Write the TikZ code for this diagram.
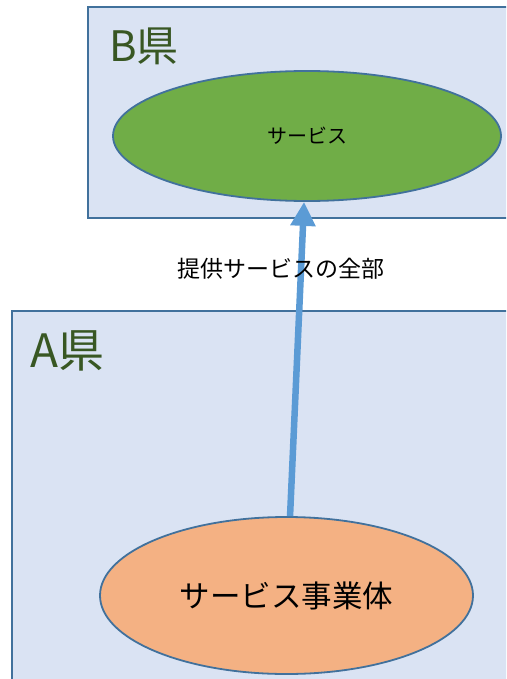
\documentclass[tikz,border=0pt]{standalone}
\usepackage{fontspec}
\newfontfamily\jpfont{Noto Sans CJK JP}
\usetikzlibrary{shapes.geometric,arrows.meta}

\definecolor{area}{RGB}{218,227,243}
\definecolor{rim}{RGB}{65,113,156}
\definecolor{serv}{RGB}{112,173,71}
\definecolor{firm}{RGB}{244,177,131}
\definecolor{flow}{RGB}{91,155,213}
\definecolor{kenname}{RGB}{56,87,35}

\begin{document}
\begin{tikzpicture}[x=1pt,y=-1pt,
  area/.style={fill=area,draw=rim,line width=2pt},
  blob/.style={ellipse,draw=rim,line width=1.8pt,inner sep=0pt,font=\jpfont},
  ken/.style={anchor=base west,inner sep=0pt,text=kenname,font=\jpfont}]
\useasboundingbox (0,0) rectangle (506,679) ;
\clip (0,0) rectangle (506,679) ;
\filldraw [area] (88,7) rectangle (520,218) ;
\filldraw [area] (12,311) rectangle (520,700) ;
\node [ken] (bken) at (109,62) {\fontsize{42}{46}\selectfont B県} ;
\node [ken] (aken) at (30,367) {\fontsize{46}{50}\selectfont A県} ;
\node [blob,fill=serv,minimum width=388pt,minimum height=130pt]
  (service) at (307,136) {\fontsize{20}{22}\selectfont サービス} ;
\node [blob,fill=firm,minimum width=373pt,minimum height=157pt]
  (provider) at (286.5,595.5) {\fontsize{30.5}{34}\selectfont サービス事業体} ;
\draw [flow,line width=6.5pt,-{Triangle[length=24pt,width=24pt]}]
  (provider) -- (service) ;
\node [font=\jpfont\fontsize{23}{26}\selectfont] (scope) at (281,269)
  {提供サービスの全部} ;
\end{tikzpicture}
\end{document}
